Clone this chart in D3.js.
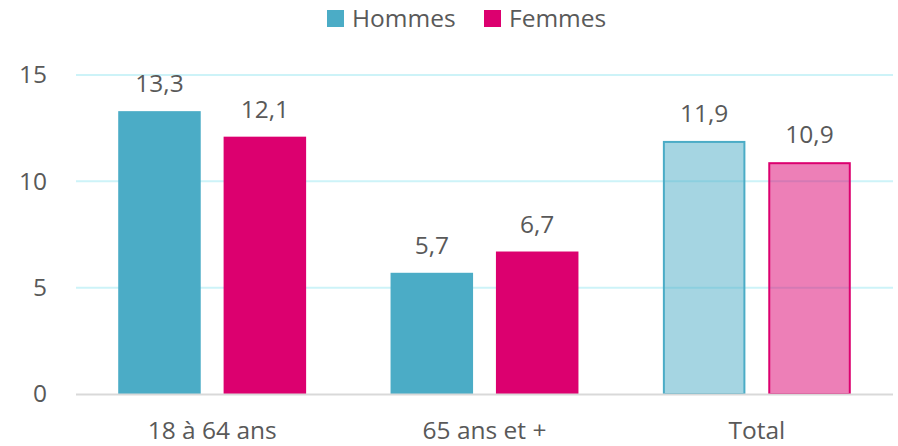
<!DOCTYPE html>
<html><head><meta charset="utf-8">
<script src="https://cdn.jsdelivr.net/npm/d3@7"></script>
<style>body{margin:0;background:#fff}svg{display:block}text{font-family:"Open Sans",sans-serif;fill:#595959}</style>
</head><body>
<script>
const categories = ["18 à 64 ans", "65 ans et +", "Total"];
const seriesNames = ["Hommes", "Femmes"];
const hommes = [13.3, 5.7, 11.9];
const femmes = [12.1, 6.7, 10.9];
const yTicks = [0, 5, 10, 15];

const W = 898, H = 446;
const m = {left: 76, right: 5, top: 75, bottom: 52};
const FS = "24.5px";
const svg = d3.select("body").append("svg").attr("width", W).attr("height", H);
const x = d3.scaleBand().domain(categories).range([m.left, W - m.right]).paddingInner(0.31).paddingOuter(0.155);
const xs = d3.scaleBand().domain(seriesNames).range([0, x.bandwidth()]).paddingInner(0.217);
const y = d3.scaleLinear().domain([0, 15]).range([H - m.bottom, m.top]);
const colors = {Hommes: "#4BACC6", Femmes: "#DC006F"};

const data = [];
categories.forEach((c, i) => {
  data.push({c, s: "Hommes", v: hommes[i], total: c === "Total"});
  data.push({c, s: "Femmes", v: femmes[i], total: c === "Total"});
});

// y axis labels
const ya = svg.append("g").attr("transform", `translate(${m.left},0)`)
  .call(d3.axisLeft(y).tickValues(yTicks).tickSize(0).tickPadding(29).tickFormat(d3.format("d")));
ya.select(".domain").remove();
ya.selectAll("text").style("font-size", FS).attr("fill", "#595959");

// gridlines
svg.append("g").selectAll("line").data(yTicks.filter(t => t > 0)).join("line")
  .attr("x1", m.left).attr("x2", W - m.right)
  .attr("y1", d => y(d)).attr("y2", d => y(d))
  .attr("stroke", "#CDF3F8").attr("stroke-width", 2);

// bars (solid groups)
svg.append("g").selectAll("rect").data(data.filter(d => !d.total)).join("rect")
  .attr("x", d => x(d.c) + xs(d.s)).attr("width", xs.bandwidth())
  .attr("y", d => y(d.v)).attr("height", d => y(0) - y(d.v))
  .attr("fill", d => colors[d.s]);

// total bars (semi-transparent with border)
svg.append("g").selectAll("rect").data(data.filter(d => d.total)).join("rect")
  .attr("x", d => x(d.c) + xs(d.s) + 1).attr("width", xs.bandwidth() - 2)
  .attr("y", d => y(d.v) + 1).attr("height", d => y(0) - y(d.v) - 1)
  .attr("fill", d => colors[d.s]).attr("fill-opacity", 0.5)
  .attr("stroke", d => colors[d.s]).attr("stroke-width", 2);

// baseline
svg.append("line").attr("x1", m.left).attr("x2", W - m.right)
  .attr("y1", y(0) + 0.5).attr("y2", y(0) + 0.5).attr("stroke", "#D9D9D9").attr("stroke-width", 2);

// x axis labels
const xa = svg.append("g").attr("transform", `translate(0,${y(0)})`)
  .call(d3.axisBottom(x).tickSize(0).tickPadding(28));
xa.select(".domain").remove();
xa.selectAll("text").style("font-size", FS).attr("fill", "#595959");

// value labels
svg.append("g").selectAll("text").data(data).join("text")
  .attr("x", d => x(d.c) + xs(d.s) + xs.bandwidth() / 2)
  .attr("y", d => y(d.v) - 19)
  .attr("text-anchor", "middle").style("font-size", FS)
  .text(d => d3.format(".1f")(d.v).replace(".", ","));

// legend
const lg = svg.append("g");
const items = [{s: "Hommes", x: 327}, {s: "Femmes", x: 484}];
items.forEach(it => {
  lg.append("rect").attr("x", it.x).attr("y", 10).attr("width", 17).attr("height", 17).attr("fill", colors[it.s]);
  lg.append("text").attr("x", it.x + 25).attr("y", 27).style("font-size", FS).text(it.s);
});
</script>
</body></html>
